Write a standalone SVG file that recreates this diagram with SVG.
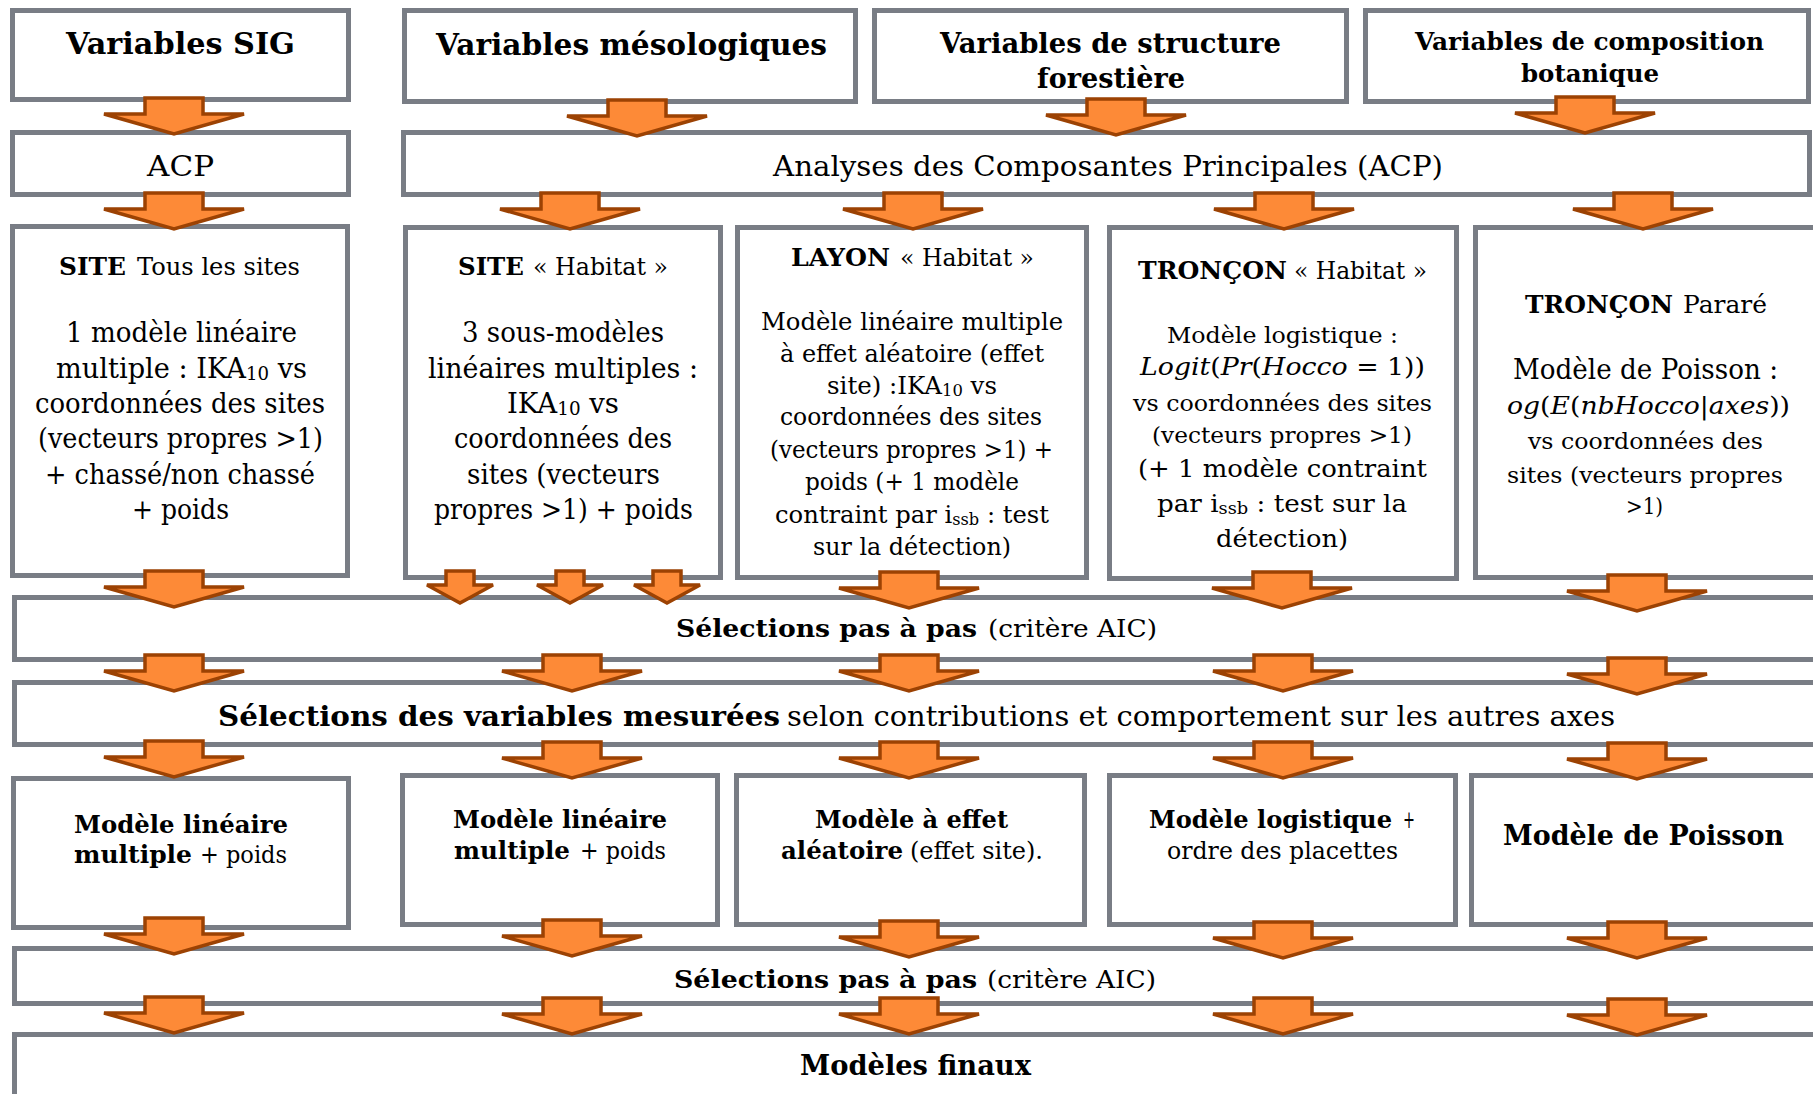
<svg xmlns="http://www.w3.org/2000/svg" xmlns:xlink="http://www.w3.org/1999/xlink" width="1813" height="1094" viewBox="0 0 1813 1094">
<style>
.box{fill:#fff;stroke:#797d85;stroke-width:5}
text{font-family:"DejaVu Serif","Liberation Serif",serif;fill:#000}
.b{font-weight:bold}
.i{font-style:italic}
.arr{fill:#fd8a37;stroke:#9c4203;stroke-width:3.5;stroke-linejoin:miter}
</style>
<defs>
<path id="big" class="arr" d="M-29,0H29V16H70L0,36L-70,16H-29Z"/>
<path id="small" class="arr" d="M-14,0H14V14H33L0,32L-33,14H-14Z"/>
</defs>
<rect width="1813" height="1094" fill="#fff"/>

<g id="n-var-sig"><rect class="box" x="12.5" y="10.5" width="336" height="89"/>
<text class="b" x="66" y="54" font-size="29" textLength="229" lengthAdjust="spacingAndGlyphs">Variables SIG</text></g>
<g id="n-var-meso"><rect class="box" x="404.5" y="10.5" width="451" height="91"/>
<text class="b" x="436" y="55" font-size="29" textLength="391" lengthAdjust="spacingAndGlyphs">Variables mésologiques</text></g>
<g id="n-var-struct"><rect class="box" x="874.5" y="10.5" width="472" height="91"/>
<text class="b" x="940" y="53" font-size="27" textLength="341" lengthAdjust="spacingAndGlyphs">Variables de structure</text>
<text class="b" x="1037" y="88" font-size="27" textLength="148" lengthAdjust="spacingAndGlyphs">forestière</text></g>
<g id="n-var-compo"><rect class="box" x="1365.5" y="10.5" width="443" height="91"/>
<text class="b" x="1415" y="50" font-size="24" textLength="349" lengthAdjust="spacingAndGlyphs">Variables de composition</text>
<text class="b" x="1521" y="82" font-size="24" textLength="138" lengthAdjust="spacingAndGlyphs">botanique</text></g>

<g id="n-acp"><rect class="box" x="12.5" y="132.5" width="336" height="62"/>
<text x="147" y="176" font-size="28" textLength="67" lengthAdjust="spacingAndGlyphs">ACP</text></g>
<g id="n-acp-wide"><rect class="box" x="403.5" y="132.5" width="1406" height="62"/>
<text x="773" y="176" font-size="28" textLength="670" lengthAdjust="spacingAndGlyphs">Analyses des Composantes Principales (ACP)</text></g>

<g id="n-site-tous"><rect class="box" x="12.5" y="226.5" width="335" height="349"/>
<text class="b" x="59" y="275" font-size="25" textLength="67" lengthAdjust="spacingAndGlyphs">SITE</text>
<text x="137" y="275" font-size="25" textLength="163" lengthAdjust="spacingAndGlyphs">Tous les sites</text>
<text x="66" y="342" font-size="27" textLength="231" lengthAdjust="spacingAndGlyphs">1 modèle linéaire</text>
<text x="56" y="378" font-size="27" textLength="251" lengthAdjust="spacingAndGlyphs">multiple : IKA<tspan font-size="18" dy="2">10</tspan><tspan dy="-2"> vs</tspan></text>
<text x="35" y="413" font-size="27" textLength="290" lengthAdjust="spacingAndGlyphs">coordonnées des sites</text>
<text x="38" y="448" font-size="27" textLength="285" lengthAdjust="spacingAndGlyphs">(vecteurs propres &gt;1)</text>
<text x="45" y="484" font-size="27" textLength="270" lengthAdjust="spacingAndGlyphs">+ chassé/non chassé</text>
<text x="132" y="519" font-size="27" textLength="97" lengthAdjust="spacingAndGlyphs">+ poids</text></g>

<g id="n-site-hab"><rect class="box" x="405.5" y="227.5" width="315" height="350"/>
<text class="b" x="458" y="275" font-size="25" textLength="66" lengthAdjust="spacingAndGlyphs">SITE</text>
<text x="533" y="275" font-size="25" textLength="135" lengthAdjust="spacingAndGlyphs">« Habitat »</text>
<text x="462" y="342" font-size="27" textLength="202" lengthAdjust="spacingAndGlyphs">3 sous-modèles</text>
<text x="428" y="378" font-size="27" textLength="270" lengthAdjust="spacingAndGlyphs">linéaires multiples :</text>
<text x="507" y="413" font-size="27" textLength="112" lengthAdjust="spacingAndGlyphs">IKA<tspan font-size="18" dy="2">10</tspan><tspan dy="-2"> vs</tspan></text>
<text x="454" y="448" font-size="27" textLength="218" lengthAdjust="spacingAndGlyphs">coordonnées des</text>
<text x="467" y="484" font-size="27" textLength="193" lengthAdjust="spacingAndGlyphs">sites (vecteurs</text>
<text x="434" y="519" font-size="27" textLength="259" lengthAdjust="spacingAndGlyphs">propres &gt;1) + poids</text></g>

<g id="n-layon"><rect class="box" x="737.5" y="227.5" width="349" height="350"/>
<text class="b" x="791" y="266" font-size="24" textLength="99" lengthAdjust="spacingAndGlyphs">LAYON</text>
<text x="900" y="266" font-size="24" textLength="134" lengthAdjust="spacingAndGlyphs">« Habitat »</text>
<text x="761" y="330" font-size="24" textLength="302" lengthAdjust="spacingAndGlyphs">Modèle linéaire multiple</text>
<text x="780" y="362" font-size="24" textLength="264" lengthAdjust="spacingAndGlyphs">à effet aléatoire (effet</text>
<text x="827" y="394" font-size="24" textLength="170" lengthAdjust="spacingAndGlyphs">site) :IKA<tspan font-size="16" dy="2">10</tspan><tspan dy="-2"> vs</tspan></text>
<text x="780" y="425" font-size="24" textLength="262" lengthAdjust="spacingAndGlyphs">coordonnées des sites</text>
<text x="770" y="458" font-size="24" textLength="283" lengthAdjust="spacingAndGlyphs">(vecteurs propres &gt;1) +</text>
<text x="805" y="490" font-size="24" textLength="214" lengthAdjust="spacingAndGlyphs">poids (+ 1 modèle</text>
<text x="775" y="523" font-size="24" textLength="274" lengthAdjust="spacingAndGlyphs">contraint par i<tspan font-size="16" dy="2">ssb</tspan><tspan dy="-2"> : test</tspan></text>
<text x="813" y="555" font-size="24" textLength="198" lengthAdjust="spacingAndGlyphs">sur la détection)</text></g>

<g id="n-troncon-hab"><rect class="box" x="1109.5" y="227.5" width="347" height="351"/>
<text class="b" x="1138" y="279" font-size="24" textLength="149" lengthAdjust="spacingAndGlyphs">TRONÇON</text>
<text x="1294" y="279" font-size="24" textLength="133" lengthAdjust="spacingAndGlyphs">« Habitat »</text>
<text x="1167" y="343" font-size="23" textLength="231" lengthAdjust="spacingAndGlyphs">Modèle logistique :</text>
<text x="1140" y="375" font-size="25" textLength="285" lengthAdjust="spacingAndGlyphs"><tspan class="i">Logit</tspan>(<tspan class="i">Pr</tspan>(<tspan class="i">Hocco</tspan> = 1))</text>
<text x="1133" y="411" font-size="22" textLength="299" lengthAdjust="spacingAndGlyphs">vs coordonnées des sites</text>
<text x="1152" y="443" font-size="22" textLength="260" lengthAdjust="spacingAndGlyphs">(vecteurs propres &gt;1)</text>
<text x="1138" y="477" font-size="25" textLength="289" lengthAdjust="spacingAndGlyphs">(+ 1 modèle contraint</text>
<text x="1157" y="512" font-size="25" textLength="250" lengthAdjust="spacingAndGlyphs">par i<tspan font-size="17" dy="2">ssb</tspan><tspan dy="-2"> : test sur la</tspan></text>
<text x="1216" y="547" font-size="25" textLength="132" lengthAdjust="spacingAndGlyphs">détection)</text></g>

<g id="n-troncon-parare"><rect class="box" x="1475.5" y="227.5" width="360" height="350"/>
<text class="b" x="1525" y="313" font-size="25" textLength="148" lengthAdjust="spacingAndGlyphs">TRONÇON</text>
<text x="1683" y="313" font-size="25" textLength="84" lengthAdjust="spacingAndGlyphs">Pararé</text>
<text x="1513" y="379" font-size="27" textLength="265" lengthAdjust="spacingAndGlyphs">Modèle de Poisson :</text>
<text x="1507" y="414" font-size="25" textLength="283" lengthAdjust="spacingAndGlyphs"><tspan class="i">og</tspan>(<tspan class="i">E</tspan>(<tspan class="i">nbHocco</tspan>|<tspan class="i">axes</tspan>))</text>
<text x="1528" y="449" font-size="22" textLength="235" lengthAdjust="spacingAndGlyphs">vs coordonnées des</text>
<text x="1507" y="483" font-size="22" textLength="276" lengthAdjust="spacingAndGlyphs">sites (vecteurs propres</text>
<text x="1626" y="514" font-size="22" textLength="37" lengthAdjust="spacingAndGlyphs">&gt;1)</text></g>

<g id="n-sel1"><rect class="box" x="14.5" y="597.5" width="1820" height="62"/>
<text class="b" x="676" y="637" font-size="25" textLength="301" lengthAdjust="spacingAndGlyphs">Sélections pas à pas</text>
<text x="988" y="637" font-size="25" textLength="169" lengthAdjust="spacingAndGlyphs">(critère AIC)</text></g>

<g id="n-sel-var"><rect class="box" x="14.5" y="682.5" width="1820" height="62"/>
<text class="b" x="218" y="726" font-size="28" textLength="562" lengthAdjust="spacingAndGlyphs">Sélections des variables mesurées</text>
<text x="787" y="726" font-size="28" textLength="828" lengthAdjust="spacingAndGlyphs">selon contributions et comportement sur les autres axes</text></g>

<g id="n-m1"><rect class="box" x="13.5" y="778.5" width="335" height="149"/>
<text class="b" x="74" y="833" font-size="24" textLength="214" lengthAdjust="spacingAndGlyphs">Modèle linéaire</text>
<text class="b" x="74" y="863" font-size="24" textLength="118" lengthAdjust="spacingAndGlyphs">multiple</text>
<text x="200" y="863" font-size="24" textLength="87" lengthAdjust="spacingAndGlyphs">+ poids</text></g>

<g id="n-m2"><rect class="box" x="402.5" y="775.5" width="315" height="149"/>
<text class="b" x="453" y="828" font-size="24" textLength="214" lengthAdjust="spacingAndGlyphs">Modèle linéaire</text>
<text class="b" x="454" y="859" font-size="24" textLength="116" lengthAdjust="spacingAndGlyphs">multiple</text>
<text x="580" y="859" font-size="24" textLength="86" lengthAdjust="spacingAndGlyphs">+ poids</text></g>

<g id="n-m3"><rect class="box" x="736.5" y="775.5" width="348" height="149"/>
<text class="b" x="815" y="828" font-size="24" textLength="193" lengthAdjust="spacingAndGlyphs">Modèle à effet</text>
<text class="b" x="781" y="859" font-size="24" textLength="122" lengthAdjust="spacingAndGlyphs">aléatoire</text>
<text x="910" y="859" font-size="24" textLength="133" lengthAdjust="spacingAndGlyphs">(effet site).</text></g>

<g id="n-m4"><rect class="box" x="1109.5" y="775.5" width="346" height="149"/>
<text class="b" x="1149" y="828" font-size="24" textLength="243" lengthAdjust="spacingAndGlyphs">Modèle logistique</text>
<text x="1403" y="828" font-size="24" textLength="12" lengthAdjust="spacingAndGlyphs">+</text>
<text x="1167" y="859" font-size="24" textLength="231" lengthAdjust="spacingAndGlyphs">ordre des placettes</text></g>

<g id="n-m5"><rect class="box" x="1471.5" y="775.5" width="360" height="149"/>
<text class="b" x="1503" y="845" font-size="28" textLength="281" lengthAdjust="spacingAndGlyphs">Modèle de Poisson</text></g>

<g id="n-sel2"><rect class="box" x="14.5" y="948.5" width="1820" height="55"/>
<text class="b" x="674" y="988" font-size="25" textLength="303" lengthAdjust="spacingAndGlyphs">Sélections pas à pas</text>
<text x="987" y="988" font-size="25" textLength="169" lengthAdjust="spacingAndGlyphs">(critère AIC)</text></g>

<g id="n-final"><rect class="box" x="14.5" y="1034.5" width="1820" height="80"/>
<text class="b" x="800" y="1075" font-size="28" textLength="231" lengthAdjust="spacingAndGlyphs">Modèles finaux</text></g>

<g id="connectors">
<use xlink:href="#big" x="174" y="98"/>
<use xlink:href="#big" x="637" y="100"/>
<use xlink:href="#big" x="1116" y="99"/>
<use xlink:href="#big" x="1585" y="97"/>

<use xlink:href="#big" x="174" y="193"/>
<use xlink:href="#big" x="570" y="193"/>
<use xlink:href="#big" x="913" y="193"/>
<use xlink:href="#big" x="1284" y="193"/>
<use xlink:href="#big" x="1643" y="193"/>

<use xlink:href="#big" x="174" y="571"/>
<use xlink:href="#small" x="460" y="571"/>
<use xlink:href="#small" x="570" y="571"/>
<use xlink:href="#small" x="667" y="571"/>
<use xlink:href="#big" x="909" y="572"/>
<use xlink:href="#big" x="1282" y="572"/>
<use xlink:href="#big" x="1637" y="575"/>

<use xlink:href="#big" x="174" y="655"/>
<use xlink:href="#big" x="572" y="655"/>
<use xlink:href="#big" x="909" y="655"/>
<use xlink:href="#big" x="1283" y="655"/>
<use xlink:href="#big" x="1637" y="658"/>

<use xlink:href="#big" x="174" y="741"/>
<use xlink:href="#big" x="572" y="742"/>
<use xlink:href="#big" x="909" y="742"/>
<use xlink:href="#big" x="1283" y="742"/>
<use xlink:href="#big" x="1637" y="743"/>

<use xlink:href="#big" x="174" y="918"/>
<use xlink:href="#big" x="572" y="920"/>
<use xlink:href="#big" x="909" y="921"/>
<use xlink:href="#big" x="1283" y="922"/>
<use xlink:href="#big" x="1637" y="922"/>

<use xlink:href="#big" x="174" y="997"/>
<use xlink:href="#big" x="572" y="998"/>
<use xlink:href="#big" x="909" y="998"/>
<use xlink:href="#big" x="1283" y="998"/>
<use xlink:href="#big" x="1637" y="999"/>
</g>
</svg>
